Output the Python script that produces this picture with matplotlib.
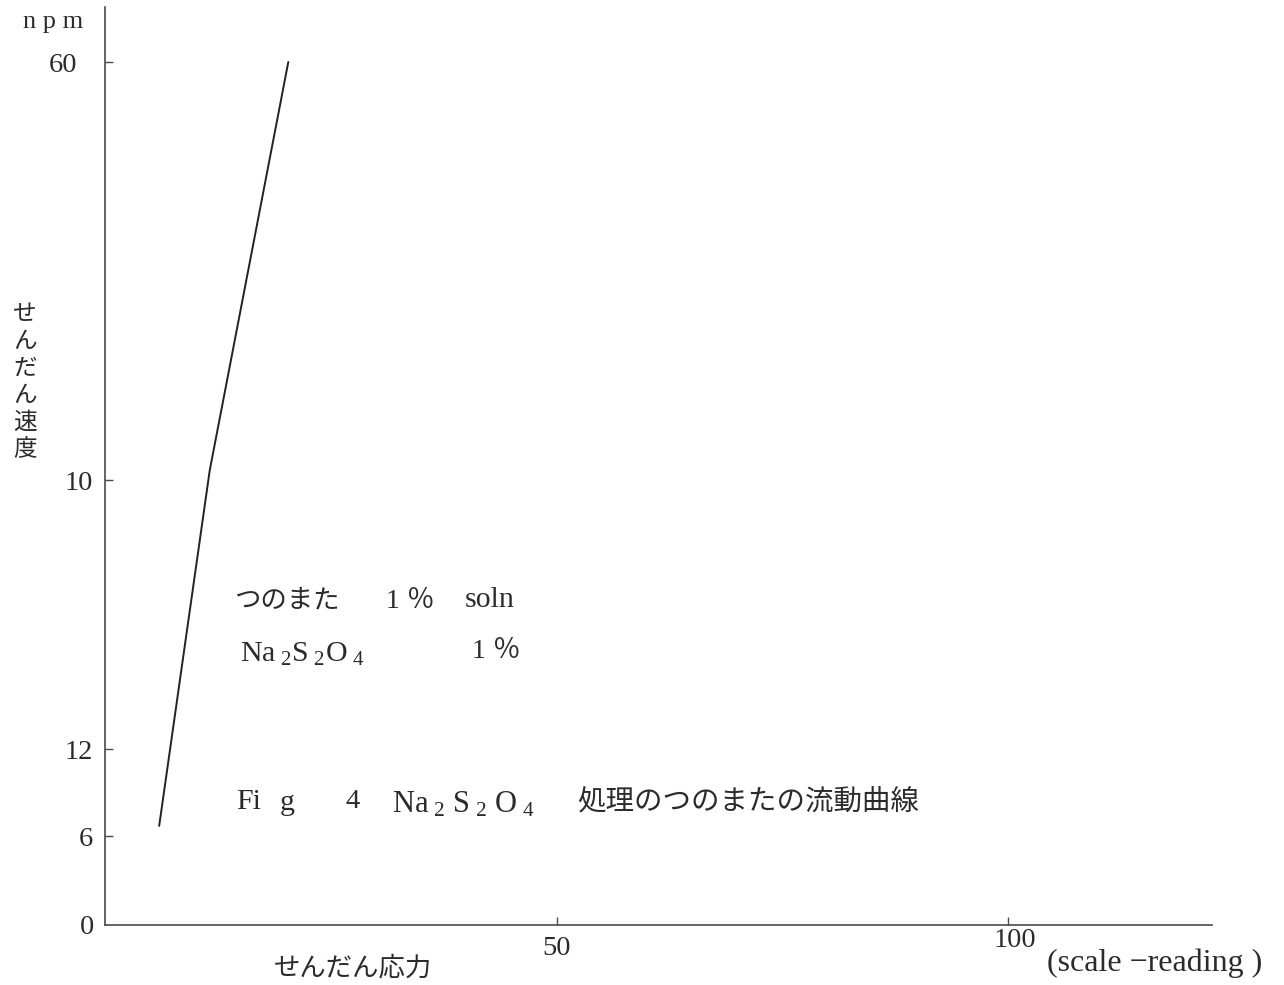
import numpy as np
import matplotlib
matplotlib.use("Agg")
import matplotlib.pyplot as plt
import matplotlib.transforms as mtransforms

plt.rcParams['font.family'] = ['Liberation Serif', 'Noto Sans CJK JP', 'DejaVu Sans']
plt.rcParams['mathtext.fontset'] = 'custom'
plt.rcParams['mathtext.rm'] = 'Liberation Serif'
plt.rcParams['mathtext.it'] = 'Liberation Serif'

# Flow curve: shear stress (scale reading) vs shear rate (rpm)
shear_stress = [6.0, 11.6, 20.3]
shear_rate = [6.7, 30.7, 60.0]

x_ticks = [50, 100]
x_tick_labels = ["50", "100"]
y_ticks = [0, 6, 12, 30, 60]
y_tick_labels = ["0", "6", "12", "10", "60"]

# the printed rpm axis is not evenly spaced; map values through its drawn spacing
y_knots = [0, 6, 12, 30, 60, 80]
y_span = [0, 89, 176, 445, 863, 1141.6]


def fwd(v):
    return np.interp(v, y_knots, y_span)


def inv(p):
    return np.interp(p, y_span, y_knots)


W, H = 1284, 985
fig = plt.figure(figsize=(W / 100, H / 100), dpi=100)
ink = '#2b2b2b'
axis_col = '#4a4a4a'
jp = ['Noto Sans CJK JP']
serif_jp = ['Liberation Serif', 'Noto Sans CJK JP']

ax = fig.add_axes([105 / W, (H - 925) / H, (1212 - 105) / W, (925 - 7) / H])
ax.set_yscale('function', functions=(fwd, inv))
ax.set_xlim(0, (1212 - 105) / 9.03)
ax.set_ylim(0, 63.95)

ax.plot(shear_stress, shear_rate, color='#222222', lw=1.4, solid_capstyle='round')

for s in ['top', 'right']:
    ax.spines[s].set_visible(False)
for s in ['left', 'bottom']:
    ax.spines[s].set_color(axis_col)
    ax.spines[s].set_linewidth(1.2)

ax.set_xticks(x_ticks)
ax.set_xticklabels(x_tick_labels)
ax.set_yticks(y_ticks)
ax.set_yticklabels(y_tick_labels)
ax.minorticks_off()
ax.tick_params(axis='both', direction='in', length=6, width=1.0, color=axis_col,
               labelsize=20.5, labelcolor=ink)
ax.tick_params(axis='x', pad=8)
ax.tick_params(axis='y', pad=9)
ax.yaxis.get_major_ticks()[0].tick1line.set_visible(False)

# nudge individual tick labels to their printed spots
ylabels = ax.get_yticklabels()
ylabels[-1].set_transform(ylabels[-1].get_transform() +
                          mtransforms.ScaledTranslation(-15 / 100, 0, fig.dpi_scale_trans))
ylabels[0].set_transform(ylabels[0].get_transform() +
                         mtransforms.ScaledTranslation(2 / 100, 0, fig.dpi_scale_trans))
xlabels = ax.get_xticklabels()
xlabels[1].set_transform(xlabels[1].get_transform() +
                         mtransforms.ScaledTranslation(7 / 100, 8 / 100, fig.dpi_scale_trans))


def px(x, y):
    return x / W, 1 - y / H


fig.text(*px(83, 22), "n p m", ha='right', va='center', fontsize=19, color=ink)
fig.text(*px(25, 382), "\n".join("せんだん速度"), ha='center', va='center',
         fontsize=17, color=ink, linespacing=1.22, family=jp)
fig.text(*px(353, 968), "せんだん応力", ha='center', va='center', fontsize=19,
         color=ink, family=jp)
fig.text(*px(1047, 963), "(scale −reading )", ha='left', va='center', fontsize=23,
         color=ink)

fig.text(*px(234, 600), "つのまた", ha='left', va='center', fontsize=19, color=ink,
         family=jp)
fig.text(*px(386, 601), "1 ％", ha='left', va='center', fontsize=20, color=ink,
         family=serif_jp)
fig.text(*px(465, 600), "soln", ha='left', va='center', fontsize=21.5, color=ink)
fig.text(*px(240, 654), r"Na$_{\ 2}$S$_{\ 2}$O$_{\ 4}$", ha='left', va='center',
         fontsize=21.5, color=ink)
fig.text(*px(472, 651), "1 ％", ha='left', va='center', fontsize=20, color=ink,
         family=serif_jp)

fig.text(*px(236, 802), "Fi", ha='left', va='center', fontsize=21.5, color=ink)
fig.text(*px(280, 803), "g", ha='left', va='center', fontsize=21.5, color=ink)
fig.text(*px(345, 802), "4", ha='left', va='center', fontsize=20.5, color=ink)
fig.text(*px(392, 805), r"Na$_{\ 2}$ S$_{\ 2}$ O$_{\ 4}$", ha='left', va='center',
         fontsize=22, color=ink)
fig.text(*px(577, 801), "処理のつのまたの流動曲線", ha='left', va='center',
         fontsize=20.5, color=ink, family=jp)

fig.savefig("out.png", dpi=100, facecolor='white')
